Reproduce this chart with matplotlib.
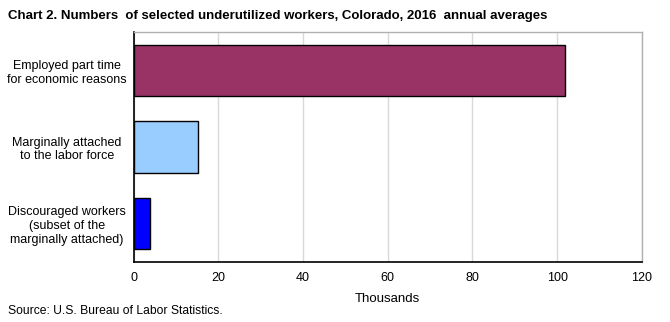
import matplotlib
matplotlib.use("Agg")
import matplotlib.pyplot as plt

plt.rcParams['font.family'] = ['Liberation Sans', 'DejaVu Sans']

categories = ["Employed part time\nfor economic reasons",
              "Marginally attached\nto the labor force",
              "Discouraged workers\n(subset of the\nmarginally attached)"]
values = [101.9, 15.2, 3.9]
colors = ["#993366", "#99CCFF", "#0000FF"]
xticks = [0, 20, 40, 60, 80, 100, 120]

fig = plt.figure(figsize=(6.7, 3.22), dpi=100)
ax = fig.add_axes([0.1996, 0.1863, 0.7584, 0.7143])

ypos = list(range(len(categories)))
ax.barh(ypos, values, height=0.67, color=colors, edgecolor="black", linewidth=1, zorder=3)
ax.set_ylim(2.5, -0.5)
ax.set_xlim(0, 120)
ax.set_xticks(xticks)
ax.set_xticklabels([str(t) for t in xticks], fontsize=9)
ax.set_yticks(ypos)
ax.set_yticklabels(categories, fontsize=9, multialignment="center", ha="center", linespacing=1.2)
ax.tick_params(axis="y", length=0, pad=48)
ax.tick_params(axis="x", length=0, pad=7)
ax.grid(axis="x", color="#d9d9d9", linewidth=1, zorder=0)

for side in ("left", "bottom"):
    ax.spines[side].set_color("black")
    ax.spines[side].set_linewidth(1.2)
for side in ("top", "right"):
    ax.spines[side].set_color("#b0b0b0")
    ax.spines[side].set_linewidth(1)

ax.set_xlabel("Thousands", fontsize=9.5, labelpad=7)

fig.text(0.012, 0.95, "Chart 2. Numbers  of selected underutilized workers, Colorado, 2016  annual averages",
         fontsize=9.5, fontweight="bold", va="center", ha="left")
fig.text(0.012, 0.035, "Source: U.S. Bureau of Labor Statistics.", fontsize=8.7, va="center", ha="left")

fig.savefig("out.png", dpi=100)
